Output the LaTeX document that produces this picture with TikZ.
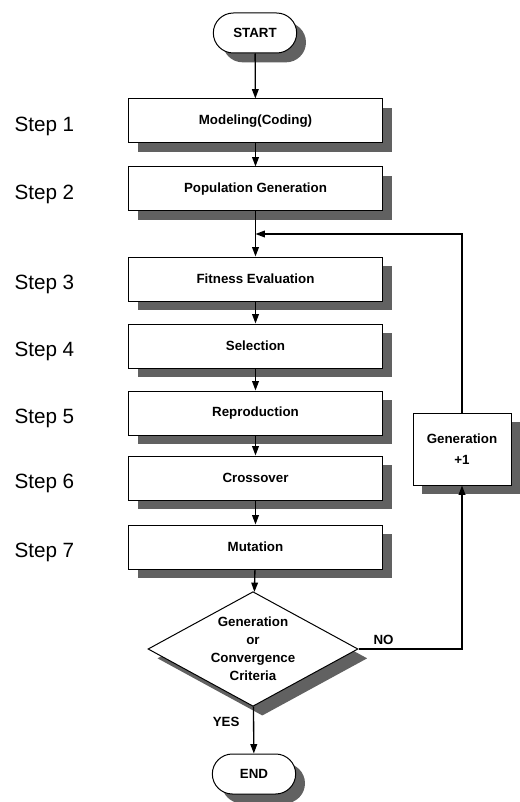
\documentclass[tikz,border=0pt]{standalone}
\usepackage{fontspec}
\setmainfont{Liberation Sans}
\usetikzlibrary{shapes.geometric,shapes.misc,shadows,arrows.meta}

\tikzset{every picture/.style={line width=0.75pt}}
\tikzset{
	box shadow/.style={drop shadow={shadow xshift=7pt,shadow yshift=-7pt,fill=black!62,opacity=1}},
	stepbox/.style={draw,fill=white,minimum width=191pt,minimum height=33pt,inner sep=0.75pt,font=\bfseries\fontsize{10}{12}\selectfont,box shadow},
	terminal/.style={draw,fill=white,rounded rectangle,minimum width=64pt,minimum height=30pt,inner sep=0.75pt,font=\bfseries\fontsize{10}{12}\selectfont,box shadow},
	decision/.style={draw,fill=white,diamond,aspect=1.83,minimum width=157.5pt,minimum height=86pt,inner sep=0pt,align=center,font=\bfseries\fontsize{10}{13.5}\selectfont,box shadow},
	steplabel/.style={anchor=west,inner sep=0.75pt,font=\fontsize{15.5}{18}\selectfont},
	flow/.style={line width=1pt,-{Triangle[length=7pt,width=5pt]}}
}

\begin{document}
\begin{tikzpicture}[x=0.75pt,y=0.75pt,yscale=-1,xscale=1]
	\useasboundingbox (0,0) rectangle (519,802);
	
	%Shape: Rounded Rectangle [id:start]
	\node (start) [terminal] at (255,33) {START};
	
	%Shape: Rectangle [id:steps 1-7]
	\node (model) [stepbox] at (255.5,121) {Modeling(Coding)};
	\node (popgen) [stepbox] at (255.5,189) {Population Generation};
	\node (fitness) [stepbox] at (255.5,279) {Fitness Evaluation};
	\node (select) [stepbox] at (255.5,346) {Selection};
	\node (reprod) [stepbox] at (255.5,413) {Reproduction};
	\node (cross) [stepbox] at (255.5,478) {Crossover};
	\node (mutate) [stepbox] at (255.5,547) {Mutation};
	
	%Shape: Diamond [id:criteria]
	\node (crit) [decision] at (253,649) {Generation\\or\\Convergence\\Criteria};
	
	%Shape: Rounded Rectangle [id:end]
	\node (end) [terminal] at (254,774) {END};
	
	%Shape: Rectangle [id:generation]
	\node (gen) [draw,fill=white,minimum width=73.5pt,minimum height=54pt,inner sep=0.75pt,align=center,font=\bfseries\fontsize{10}{16}\selectfont,box shadow] at (462,449) {Generation\\+1};
	
	\coordinate (merge) at (255.5,234);
	
	%Straight Lines
	\draw [flow] (start) -- (model);
	\draw [flow] (model) -- (popgen);
	\draw [flow] (popgen) -- (fitness);
	\draw [flow] (fitness) -- (select);
	\draw [flow] (select) -- (reprod);
	\draw [flow] (reprod) -- (cross);
	\draw [flow] (cross) -- (mutate);
	\draw [flow] (mutate) -- (crit);
	\draw [flow] (crit) -- (end);
	%Straight Lines [feedback]
	\draw [flow] (crit.east) -| (gen.south);
	\draw [flow] (gen.north) |- (merge);
	
	% Text Node
	\node (step1) [steplabel] at (13,126) {Step 1};
	% Text Node
	\node (step2) [steplabel] at (13,194) {Step 2};
	% Text Node
	\node (step3) [steplabel] at (13,284) {Step 3};
	% Text Node
	\node (step4) [steplabel] at (13,351) {Step 4};
	% Text Node
	\node (step5) [steplabel] at (13,418) {Step 5};
	% Text Node
	\node (step6) [steplabel] at (13,483) {Step 6};
	% Text Node
	\node (step7) [steplabel] at (13,552) {Step 7};
	% Text Node
	\node (no) [anchor=south west,inner sep=0.75pt,font=\bfseries\fontsize{10}{12}\selectfont] at (372,646) {NO};
	% Text Node
	\node (yes) [anchor=north east,inner sep=0.75pt,font=\bfseries\fontsize{10}{12}\selectfont] at (241,716) {YES};
	
\end{tikzpicture}
\end{document}
